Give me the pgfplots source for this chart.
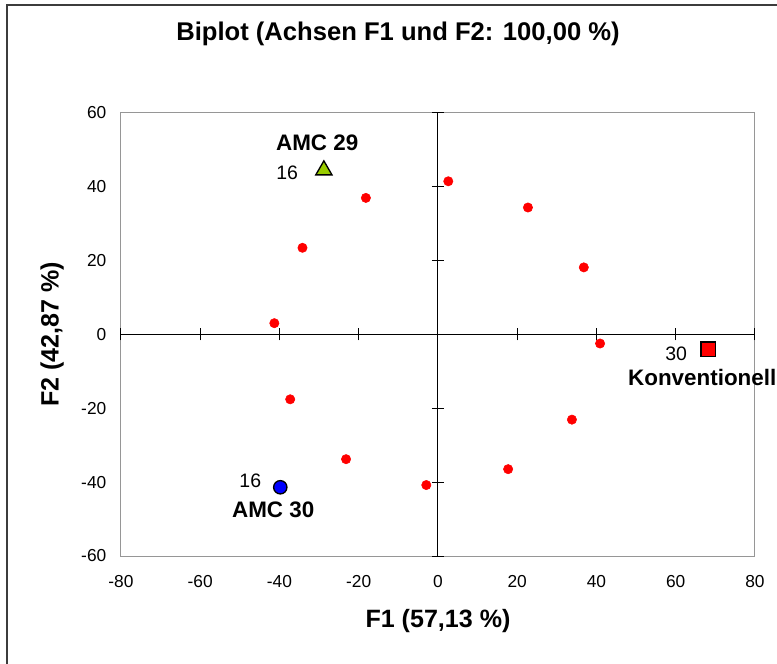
\documentclass[border=0pt]{standalone}
\usepackage{fontspec}
\setmainfont{Liberation Sans}
\usepackage{pgfplots}
\pgfplotsset{compat=1.18}
\definecolor{ygreen}{RGB}{153,204,0}
\definecolor{boxgray}{RGB}{150,150,150}
\definecolor{frame}{RGB}{60,60,60}
\begin{document}
\begin{tikzpicture}
\useasboundingbox (-90.75pt,-80.25pt) rectangle (492pt,417pt);
\draw[line width=1.5pt, frame] (-85.5pt,-81pt) -- (-85.5pt,413.25pt) -- (493pt,413.25pt);
% box axis with labels
\begin{axis}[at={(0,0)}, anchor=south west, scale only axis,
  width=475.5pt, height=332.6pt,
  xmin=-80, xmax=80, ymin=-60, ymax=60,
  xtick={-80,-60,...,80}, ytick={-60,-40,...,60},
  axis line style={boxgray, line width=0.75pt},
  major tick length=0pt,
  tick label style={font=\fontsize{13}{15}\selectfont},
  /pgf/number format/assume math mode=true,
  xticklabel style={yshift=-11pt},
  yticklabel style={xshift=-7.5pt},
  title={Biplot (Achsen F1 und F2: 100,00 \%)},
  title style={at={(axis description cs:0.4369,1.159)}, anchor=center, font=\fontsize{19.2}{22}\selectfont\bfseries},
  xlabel={F1 (57,13 \%)},
  ylabel={F2 (42,87 \%)},
  every axis x label/.style={at={(axis description cs:0.5,-0.1466)}, anchor=center, font=\fontsize{18.8}{22}\selectfont\bfseries},
  every axis y label/.style={at={(axis description cs:-0.1088,0.5)}, anchor=center, rotate=90, font=\fontsize{18.8}{22}\selectfont\bfseries},
]
\addplot[draw=none, forget plot] coordinates {(0,0)};
\end{axis}
% middle axes with data
\begin{axis}[at={(0,0)}, anchor=south west, scale only axis,
  width=475.5pt, height=332.6pt,
  xmin=-80, xmax=80, ymin=-60, ymax=60,
  axis lines=middle,
  axis line style={-, black, line width=0.75pt},
  xtick={-80,-60,...,80}, ytick={-60,-40,...,60},
  xticklabels={}, yticklabels={},
  tick align=center, major tick length=9pt,
  tick style={black, line width=0.75pt},
  clip=false,
]
\addplot[only marks, mark=*, mark size=3.5pt, color=red, mark options={fill=red, draw=red}] coordinates {
  (-18.2,36.9) (-34.2,23.4) (-41.3,3.0) (2.6,41.4) (22.7,34.3) (36.8,18.1)
  (40.9,-2.5) (33.8,-23.1) (17.7,-36.5) (-2.95,-40.8) (-23.2,-33.8) (-37.3,-17.6)
};
\addplot[only marks, mark=triangle*, mark size=7pt, mark options={fill=ygreen, draw=black, line width=1pt}] coordinates {(-28.8,44.4)};
\addplot[only marks, mark=*, mark size=5pt, mark options={fill=blue, draw=black, line width=1pt}] coordinates {(-39.8,-41.4)};
\addplot[only marks, mark=square*, mark size=5.5pt, mark options={fill=red, draw=black, line width=1pt}] coordinates {(68.2,-4.05)};
\node[font=\fontsize{16.8}{19}\selectfont\bfseries] at (axis cs:-28.8,45.05) [xshift=-5pt, yshift=19pt] {AMC 29};
\node[font=\fontsize{14.6}{17}\selectfont] at (axis cs:-28.8,45.05) [xshift=-27.5pt, yshift=-3.5pt] {16};
\node[font=\fontsize{16.8}{19}\selectfont\bfseries] at (axis cs:-39.8,-41.4) [xshift=-5.3pt, yshift=-17pt] {AMC 30};
\node[font=\fontsize{14.6}{17}\selectfont] at (axis cs:-39.8,-41.4) [xshift=-22.5pt, yshift=4.5pt] {16};
\node[font=\fontsize{16.8}{19}\selectfont\bfseries] at (axis cs:68.2,-4.05) [xshift=-4.5pt, yshift=-21pt] {Konventionell};
\node[font=\fontsize{14.6}{17}\selectfont] at (axis cs:68.2,-4.05) [xshift=-24pt, yshift=-3.75pt] {30};
\end{axis}
\end{tikzpicture}
\end{document}
